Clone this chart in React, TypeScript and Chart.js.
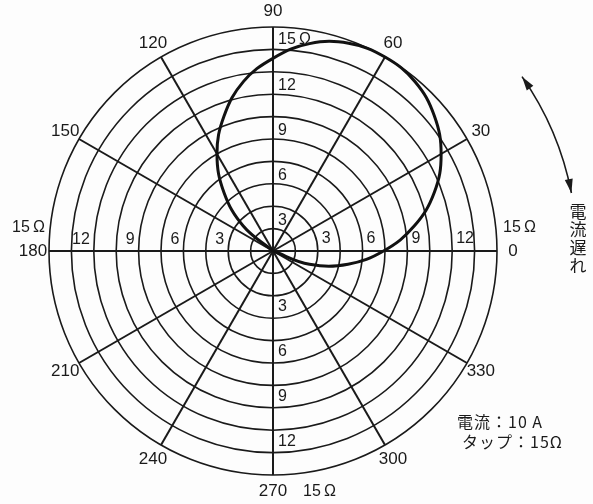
import React, { useEffect, useRef } from "react";
import { Chart, registerables } from "chart.js";

Chart.register(...registerables);

// Curve: impedance magnitude (Ω) read at each angle (degrees)
const curveAngles = [-30, -20, -10, 0, 10, 20, 30, 40, 50, 60, 70, 80, 90, 100, 110, 120, 130, 140, 150];
const curveOhms = [0, 2.6, 5.1, 7.4, 9.6, 11.5, 13.0, 14.1, 14.8, 15.0, 14.8, 14.1, 12.9, 11.5, 9.6, 7.5, 5.1, 2.6, 0];

// Polar grid
const ringValues = [1.5, 3, 4.5, 6, 7.5, 9, 10.5, 12, 13.5, 15];
const spokeAngles = [0, 30, 60, 90, 120, 150, 180, 210, 240, 270, 300, 330];
const angleLabels = ["0", "30", "60", "90", "120", "150", "180", "210", "240", "270", "300", "330"];
const ringLabelValues = [3, 6, 9, 12];
const ringLabels = ["3", "6", "9", "12"];
const outerLabel = "15\u2009Ω";
const maxOhm = 15;

const noteLine1 = "電流：10 A";
const noteLine2 = "タップ：15Ω";
const lagChars = ["電", "流", "遅", "れ"];

const NUM_FONT = '"Liberation Sans", Arial, sans-serif';
const JP_FONT = '"Noto Sans CJK JP", sans-serif';

const polarGrid = {
  id: "polarGrid",
  beforeDraw(chart: any) {
    const ctx = chart.ctx;
    ctx.save();
    ctx.fillStyle = "#fdfdfd";
    ctx.fillRect(0, 0, chart.width, chart.height);
    ctx.restore();
  },
  beforeDatasetsDraw(chart: any) {
    const ctx = chart.ctx;
    const xs = chart.scales.x;
    const ys = chart.scales.y;
    const cx = xs.getPixelForValue(0);
    const cy = ys.getPixelForValue(0);
    const k = xs.getPixelForValue(1) - cx;
    ctx.save();
    ctx.strokeStyle = "#1a1a1a";
    ctx.lineWidth = 1.6;
    ringValues.forEach((v) => {
      ctx.beginPath();
      ctx.arc(cx, cy, v * k, 0, Math.PI * 2);
      ctx.stroke();
    });
    ctx.lineWidth = 2;
    spokeAngles.forEach((a) => {
      const t = (a * Math.PI) / 180;
      ctx.beginPath();
      ctx.moveTo(cx, cy);
      ctx.lineTo(cx + Math.cos(t) * maxOhm * k, cy - Math.sin(t) * maxOhm * k);
      ctx.stroke();
    });
    ctx.restore();
  },
  afterDatasetsDraw(chart: any) {
    const ctx = chart.ctx;
    const xs = chart.scales.x;
    const ys = chart.scales.y;
    const cx = xs.getPixelForValue(0);
    const cy = ys.getPixelForValue(0);
    const k = xs.getPixelForValue(1) - cx;
    const R = maxOhm * k;
    ctx.save();
    ctx.fillStyle = "#1a1a1a";
    ctx.textBaseline = "middle";

    // angle labels
    ctx.font = `17px ${NUM_FONT}`;
    ctx.textAlign = "center";
    spokeAngles.forEach((a, i) => {
      const t = (a * Math.PI) / 180;
      const rr = R + 16;
      ctx.fillText(angleLabels[i], cx + Math.cos(t) * rr, cy - Math.sin(t) * rr);
    });

    // ring labels
    ctx.font = `16px ${NUM_FONT}`;
    ringLabelValues.forEach((v, i) => {
      const d = v * k;
      ctx.textAlign = "left";
      ctx.fillText(ringLabels[i], cx + d + 4, cy - 12);
      ctx.fillText(ringLabels[i], cx + 5, cy - d + 14);
      ctx.fillText(ringLabels[i], cx + 5, cy + d + 11);
      ctx.textAlign = "right";
      ctx.fillText(ringLabels[i], cx - d - 4, cy - 11);
    });
    ctx.textAlign = "left";
    ctx.fillText(outerLabel, cx + 5, cy - R + 13);
    ctx.fillText(outerLabel, cx + R + 6, cy - 23);
    ctx.fillText(outerLabel, cx + 30, cy + R + 17);
    ctx.textAlign = "right";
    ctx.fillText(outerLabel, cx - R - 4, cy - 23);

    // lag arrow
    const ar = R + 80;
    const a1 = (35 * Math.PI) / 180;
    const a2 = (11 * Math.PI) / 180;
    ctx.strokeStyle = "#1a1a1a";
    ctx.lineWidth = 1.6;
    ctx.beginPath();
    ctx.arc(cx, cy, ar, -a1, -a2);
    ctx.stroke();
    const head = (t: number, dx: number, dy: number) => {
      const px = cx + Math.cos(t) * ar;
      const py = cy - Math.sin(t) * ar;
      const nx = -dy, ny = dx;
      ctx.beginPath();
      ctx.moveTo(px, py);
      ctx.lineTo(px - dx * 14 + nx * 4, py - dy * 14 + ny * 4);
      ctx.lineTo(px - dx * 14 - nx * 4, py - dy * 14 - ny * 4);
      ctx.closePath();
      ctx.fill();
    };
    head(a1, -Math.sin(a1), -Math.cos(a1));
    head(a2, Math.sin(a2), Math.cos(a2));

    // vertical text
    ctx.font = `17px ${JP_FONT}`;
    ctx.textAlign = "center";
    lagChars.forEach((c, i) => {
      ctx.fillText(c, 578, 212 + i * 18);
    });

    // note
    ctx.textAlign = "left";
    ctx.font = `16px ${JP_FONT}`;
    (ctx as any).letterSpacing = "1px";
    ctx.fillText(noteLine1, 457, 422);
    ctx.fillText(noteLine2, 462, 442);
    ctx.restore();
  },
};

export default function App() {
  const ref = useRef<HTMLCanvasElement | null>(null);
  useEffect(() => {
    if (!ref.current) return;
    const pts = curveAngles.map((a, i) => {
      const t = (a * Math.PI) / 180;
      return { x: curveOhms[i] * Math.cos(t), y: curveOhms[i] * Math.sin(t) };
    });
    const chart = new Chart(ref.current, {
      type: "scatter",
      data: {
        datasets: [
          {
            data: pts,
            showLine: true,
            borderColor: "#111",
            borderWidth: 3,
            pointRadius: 0,
            tension: 0.4,
            fill: false,
          },
        ],
      },
      options: {
        responsive: false,
        animation: false,
        layout: { padding: { left: 49, right: 96, top: 27, bottom: 29 } },
        scales: {
          x: { type: "linear", min: -maxOhm, max: maxOhm, display: false },
          y: { type: "linear", min: -maxOhm, max: maxOhm, display: false },
        },
        plugins: { legend: { display: false }, tooltip: { enabled: false } },
      },
      plugins: [polarGrid],
    } as any);
    return () => chart.destroy();
  }, []);
  return (
    <div style={{ position: "absolute", left: 0, top: 0, width: 593, height: 504 }}>
      <canvas ref={ref} width={593} height={504} style={{ display: "block" }} />
    </div>
  );
}
